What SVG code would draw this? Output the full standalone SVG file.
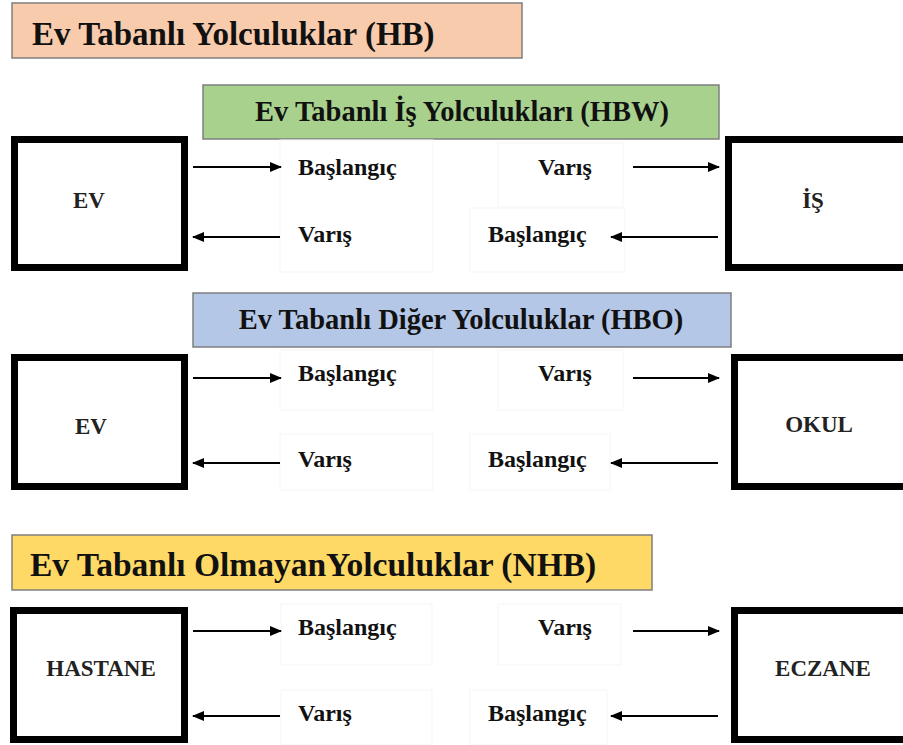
<svg xmlns="http://www.w3.org/2000/svg" width="903" height="745" viewBox="0 0 903 745">
<style>
.hdr{stroke:#7f7f7f;stroke-width:1.5}
.box{fill:#fff;stroke:#000;stroke-width:7}
.faint{fill:none;stroke:#f5f5f5;stroke-width:1}
.ar{stroke:#000;stroke-width:2;fill:none;marker-end:url(#ah)}
</style>
<defs>
<marker id="ah" viewBox="0 0 12 10" refX="11" refY="5" markerWidth="12" markerHeight="10" markerUnits="userSpaceOnUse" orient="auto">
<path d="M0,0 L12,5 L0,10 Z" fill="#000"/>
</marker>
</defs>
<rect width="903" height="745" fill="#fff"/>

<g id="hb">
<rect class="hdr" x="12" y="3" width="510" height="55" fill="#f8cbad"/>
<text x="32" y="45" font-family="Liberation Serif, serif" font-weight="bold" fill="#111" font-size="33">Ev Tabanlı Yolculuklar (HB)</text>
</g>
<g id="hbw">
<rect class="hdr" x="203" y="85" width="516" height="54" fill="#a9d18e"/>
<text x="462" y="121" font-family="Liberation Serif, serif" font-weight="bold" fill="#111" font-size="28.5" text-anchor="middle">Ev Tabanlı İş Yolculukları (HBW)</text>
</g>
<g id="hbo">
<rect class="hdr" x="193" y="293" width="538" height="54" fill="#b4c7e7"/>
<text x="461" y="329" font-family="Liberation Serif, serif" font-weight="bold" fill="#111" font-size="28.5" text-anchor="middle">Ev Tabanlı Diğer Yolculuklar (HBO)</text>
</g>
<g id="nhb">
<rect class="hdr" x="12" y="535" width="640" height="55" fill="#ffd966"/>
<text x="30" y="576" font-family="Liberation Serif, serif" font-weight="bold" fill="#111" font-size="33.5">Ev Tabanlı OlmayanYolculuklar (NHB)</text>
</g>

<g id="faint-boxes">
<rect class="faint" x="55" y="177" width="88" height="64"/>
<rect class="faint" x="280" y="140" width="153" height="132"/>
<rect class="faint" x="498" y="143" width="125" height="64"/>
<rect class="faint" x="470" y="208" width="155" height="64"/>
<rect class="faint" x="783" y="177" width="88" height="64"/>
<rect class="faint" x="280" y="350" width="153" height="60"/>
<rect class="faint" x="498" y="350" width="125" height="60"/>
<rect class="faint" x="280" y="434" width="153" height="56"/>
<rect class="faint" x="470" y="434" width="140" height="56"/>
<rect class="faint" x="281" y="604" width="151" height="61"/>
<rect class="faint" x="498" y="604" width="123" height="61"/>
<rect class="faint" x="281" y="690" width="151" height="55"/>
<rect class="faint" x="470" y="690" width="137" height="55"/>
</g>

<g id="ev1">
<rect class="box" x="14.5" y="139.5" width="170" height="128"/>
<text x="89" y="208" font-family="Liberation Serif, serif" font-weight="bold" fill="#222" font-size="23" text-anchor="middle">EV</text>
</g>
<g id="is">
<rect class="box" x="728.5" y="139.5" width="180" height="128"/>
<text x="813" y="208" font-family="Liberation Serif, serif" font-weight="bold" fill="#222" font-size="23" text-anchor="middle">İŞ</text>
</g>
<g id="ev2">
<rect class="box" x="14.5" y="357.5" width="170" height="129"/>
<text x="91" y="434" font-family="Liberation Serif, serif" font-weight="bold" fill="#222" font-size="23" text-anchor="middle">EV</text>
</g>
<g id="okul">
<rect class="box" x="734.5" y="357.5" width="180" height="129"/>
<text x="819" y="432" font-family="Liberation Serif, serif" font-weight="bold" fill="#222" font-size="23" text-anchor="middle">OKUL</text>
</g>
<g id="hastane">
<rect class="box" x="13.5" y="610.5" width="171" height="129"/>
<text x="101" y="676" font-family="Liberation Serif, serif" font-weight="bold" fill="#222" font-size="23" text-anchor="middle">HASTANE</text>
</g>
<g id="eczane">
<rect class="box" x="734.5" y="610.5" width="180" height="129"/>
<text x="823" y="676" font-family="Liberation Serif, serif" font-weight="bold" fill="#222" font-size="23" text-anchor="middle">ECZANE</text>
</g>

<g id="labels" font-family="Liberation Serif, serif" font-weight="bold" fill="#111" font-size="24">
<text x="298" y="175">Başlangıç</text>
<text x="538" y="175">Varış</text>
<text x="298" y="242">Varış</text>
<text x="488" y="242">Başlangıç</text>
<text x="298" y="381">Başlangıç</text>
<text x="538" y="381">Varış</text>
<text x="298" y="467">Varış</text>
<text x="488" y="467">Başlangıç</text>
<text x="298" y="635">Başlangıç</text>
<text x="538" y="635">Varış</text>
<text x="298" y="721">Varış</text>
<text x="488" y="721">Başlangıç</text>
</g>

<g id="connectors">
<line class="ar" x1="193" y1="167" x2="281" y2="167"/>
<line class="ar" x1="633" y1="167" x2="719" y2="167"/>
<line class="ar" x1="280" y1="237" x2="193" y2="237"/>
<line class="ar" x1="718" y1="237" x2="611" y2="237"/>
<line class="ar" x1="193" y1="378" x2="281" y2="378"/>
<line class="ar" x1="633" y1="378" x2="719" y2="378"/>
<line class="ar" x1="280" y1="463" x2="193" y2="463"/>
<line class="ar" x1="718" y1="463" x2="611" y2="463"/>
<line class="ar" x1="193" y1="631" x2="281" y2="631"/>
<line class="ar" x1="633" y1="631" x2="719" y2="631"/>
<line class="ar" x1="280" y1="716" x2="193" y2="716"/>
<line class="ar" x1="718" y1="716" x2="611" y2="716"/>
</g>
</svg>
